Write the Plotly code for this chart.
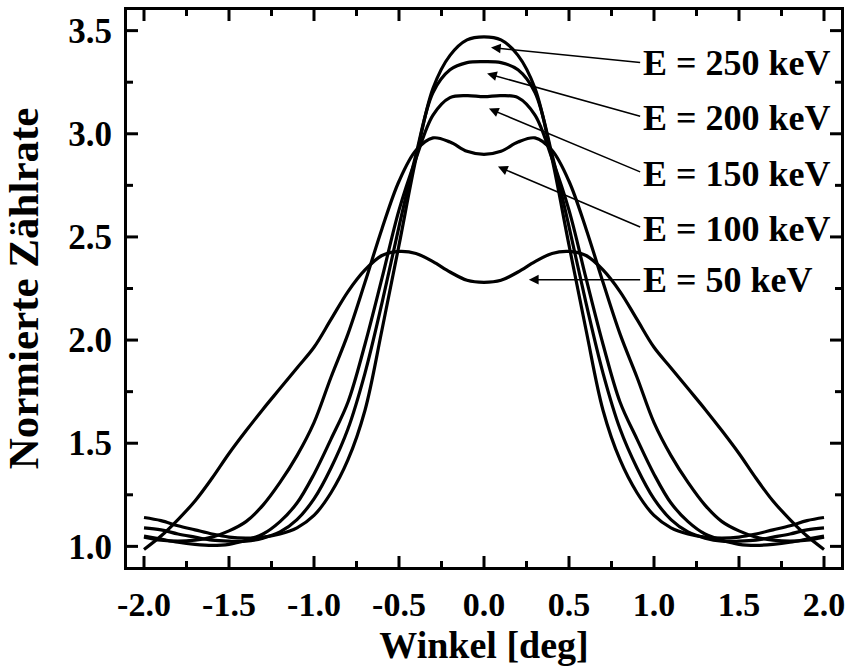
import plotly.graph_objects as go

# Angle grid [deg]
winkel = [-2.0, -1.9, -1.8, -1.7, -1.6, -1.5, -1.4, -1.3, -1.2, -1.1, -1.0,
          -0.9, -0.8, -0.7, -0.6, -0.5, -0.4, -0.3, -0.2, -0.1, 0.0,
          0.1, 0.2, 0.3, 0.4, 0.5, 0.6, 0.7, 0.8, 0.9, 1.0,
          1.1, 1.2, 1.3, 1.4, 1.5, 1.6, 1.7, 1.8, 1.9, 2.0]

# Normalised count rate for each beam energy
rate_50 = [0.985, 1.05, 1.13, 1.22, 1.33, 1.45, 1.56, 1.665, 1.765, 1.865, 1.965,
           2.10, 2.235, 2.34, 2.41, 2.43, 2.42, 2.38, 2.33, 2.29, 2.28,
           2.29, 2.33, 2.38, 2.42, 2.43, 2.41, 2.34, 2.235, 2.10, 1.965,
           1.865, 1.765, 1.665, 1.56, 1.45, 1.33, 1.22, 1.13, 1.05, 0.985]
rate_100 = [1.045, 1.03, 1.025, 1.03, 1.045, 1.075, 1.12, 1.20, 1.31, 1.44, 1.60,
            1.82, 2.03, 2.28, 2.54, 2.77, 2.92, 2.98, 2.96, 2.915, 2.90,
            2.915, 2.96, 2.98, 2.92, 2.77, 2.54, 2.28, 2.03, 1.82, 1.60,
            1.44, 1.31, 1.20, 1.12, 1.075, 1.045, 1.03, 1.025, 1.03, 1.045]
rate_150 = [1.05, 1.035, 1.02, 1.01, 1.005, 1.01, 1.03, 1.06, 1.12, 1.21, 1.35,
            1.52, 1.70, 1.98, 2.30, 2.63, 2.88, 3.09, 3.175, 3.185, 3.18,
            3.185, 3.175, 3.09, 2.88, 2.63, 2.30, 1.98, 1.70, 1.52, 1.35,
            1.21, 1.12, 1.06, 1.03, 1.01, 1.005, 1.01, 1.02, 1.035, 1.05]
rate_200 = [1.09, 1.08, 1.06, 1.045, 1.03, 1.025, 1.025, 1.04, 1.07, 1.13, 1.23,
            1.38, 1.57, 1.84, 2.18, 2.55, 2.90, 3.20, 3.31, 3.345, 3.35,
            3.345, 3.31, 3.20, 2.90, 2.55, 2.18, 1.84, 1.57, 1.38, 1.23,
            1.13, 1.07, 1.04, 1.025, 1.025, 1.03, 1.045, 1.06, 1.08, 1.09]
rate_250 = [1.14, 1.125, 1.10, 1.08, 1.06, 1.045, 1.04, 1.045, 1.06, 1.09, 1.15,
            1.26, 1.42, 1.66, 2.05, 2.46, 2.88, 3.22, 3.38, 3.455, 3.47,
            3.455, 3.38, 3.22, 2.88, 2.46, 2.05, 1.66, 1.42, 1.26, 1.15,
            1.09, 1.06, 1.045, 1.04, 1.045, 1.06, 1.08, 1.10, 1.125, 1.14]

series_names = ["E = 50 keV", "E = 100 keV", "E = 150 keV", "E = 200 keV", "E = 250 keV"]
series_values = [rate_50, rate_100, rate_150, rate_200, rate_250]

x_tick_vals = [-2.0, -1.5, -1.0, -0.5, 0.0, 0.5, 1.0, 1.5, 2.0]
x_tick_text = ["-2.0", "-1.5", "-1.0", "-0.5", "0.0", "0.5", "1.0", "1.5", "2.0"]
x_minor_vals = [-1.75, -1.25, -0.75, -0.25, 0.25, 0.75, 1.25, 1.75]
y_tick_vals = [1.0, 1.5, 2.0, 2.5, 3.0, 3.5]
y_tick_text = ["1.0", "1.5", "2.0", "2.5", "3.0", "3.5"]
y_minor_vals = [1.25, 1.75, 2.25, 2.75, 3.25]

# Label placement: (text x, text y, arrow tail x, arrow tail y, arrow head x, arrow head y)
label_layout = {
    "E = 250 keV": (0.925, 3.345, 0.9275, 3.345, 0.041, 3.418),
    "E = 200 keV": (0.925, 3.078, 0.9275, 3.083, 0.018, 3.292),
    "E = 150 keV": (0.925, 2.807, 0.9275, 2.812, 0.029, 3.122),
    "E = 100 keV": (0.925, 2.540, 0.9275, 2.545, 0.082, 2.841),
    "E = 50 keV":  (0.925, 2.290, 0.9275, 2.293, 0.264, 2.293),
}

FONT = "Liberation Serif"
WIDTH, HEIGHT = 851, 671
MARGIN = dict(l=127, r=10, t=10, b=104)
X_RANGE = [-2.1, 2.1]
Y_RANGE = [0.9, 3.6]
MAJOR_LEN, MINOR_LEN, TICK_W = 11, 6, 3

fig = go.Figure()
for name, vals in zip(series_names, series_values):
    fig.add_trace(go.Scatter(
        x=winkel, y=vals, mode="lines", name=name,
        line=dict(color="black", width=3.2, shape="spline", smoothing=1.0),
        hoverinfo="skip",
    ))

# Inward tick marks on all four sides of the frame, drawn as one line trace.
# Pixel lengths are converted to axis units from the fixed plot-area size.
x_units_per_px = (X_RANGE[1] - X_RANGE[0]) / (WIDTH - MARGIN["l"] - MARGIN["r"])
y_units_per_px = (Y_RANGE[1] - Y_RANGE[0]) / (HEIGHT - MARGIN["t"] - MARGIN["b"])
tick_x, tick_y = [], []
for vals, length in ((x_tick_vals, MAJOR_LEN), (x_minor_vals, MINOR_LEN)):
    dy = length * y_units_per_px
    for v in vals:
        tick_x += [v, v, None, v, v, None]
        tick_y += [Y_RANGE[0], Y_RANGE[0] + dy, None, Y_RANGE[1], Y_RANGE[1] - dy, None]
for vals, length in ((y_tick_vals, MAJOR_LEN), (y_minor_vals, MINOR_LEN)):
    dx = length * x_units_per_px
    for v in vals:
        tick_x += [X_RANGE[0], X_RANGE[0] + dx, None, X_RANGE[1], X_RANGE[1] - dx, None]
        tick_y += [v, v, None, v, v, None]
fig.add_trace(go.Scatter(
    x=tick_x, y=tick_y, mode="lines", line=dict(color="black", width=TICK_W),
    hoverinfo="skip", showlegend=False, cliponaxis=False, connectgaps=False,
))

for name in series_names:
    tx, ty, ax, ay, hx, hy = label_layout[name]
    fig.add_annotation(
        x=tx, y=ty, xref="x", yref="y", text=name, showarrow=False,
        xanchor="left", yanchor="middle",
        font=dict(family=FONT, size=36, color="black", weight="bold"),
    )
    fig.add_annotation(
        x=hx, y=hy, xref="x", yref="y", ax=ax, ay=ay, axref="x", ayref="y",
        text="", showarrow=True, arrowhead=2, arrowsize=1.3, arrowwidth=1.5,
        arrowcolor="black", standoff=0, startstandoff=0,
    )

fig.update_xaxes(
    range=X_RANGE, tickmode="array", tickvals=x_tick_vals, ticktext=x_tick_text,
    showline=True, linewidth=3, linecolor="black", mirror=True,
    ticks="", showgrid=False, zeroline=False, automargin=False,
    tickfont=dict(family=FONT, size=34, color="black", weight="bold"),
    title=dict(text="Winkel [deg]", font=dict(family=FONT, size=38, color="black", weight="bold"), standoff=10),
    ticklabelstandoff=5,
)
fig.update_yaxes(
    range=Y_RANGE, tickmode="array", tickvals=y_tick_vals, ticktext=y_tick_text,
    showline=True, linewidth=3, linecolor="black", mirror=True,
    ticks="", showgrid=False, zeroline=False, automargin=False,
    tickfont=dict(family=FONT, size=35, color="black", weight="bold"),
    title=dict(text="Normierte Zählrate", font=dict(family=FONT, size=43, color="black", weight="bold"), standoff=19),
    ticklabelstandoff=5,
)

fig.update_layout(
    template="simple_white",
    width=WIDTH, height=HEIGHT,
    margin=dict(MARGIN, autoexpand=False),
    plot_bgcolor="white", paper_bgcolor="white",
    showlegend=False,
    font=dict(family=FONT, color="black"),
)

fig.write_html("out.html")
